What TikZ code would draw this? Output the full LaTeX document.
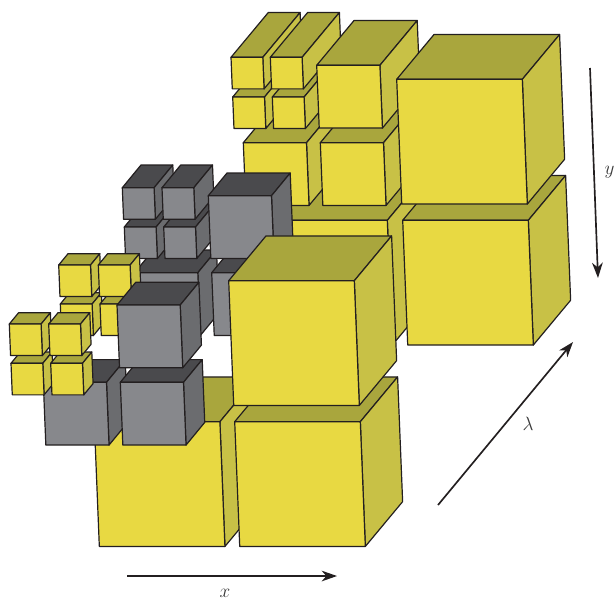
\documentclass[tikz,border=0pt]{standalone}
\usetikzlibrary{arrows.meta}
\definecolor{yfront}{HTML}{E8D942}
\definecolor{ytop}{HTML}{A9A63D}
\definecolor{yside}{HTML}{C8C146}
\definecolor{gfront}{HTML}{87888C}
\definecolor{gtop}{HTML}{4A4A4D}
\definecolor{gside}{HTML}{6B6C6F}
\definecolor{ink}{HTML}{231F20}
\definecolor{labelink}{HTML}{3A3A3A}
\tikzset{face/.style={draw=ink,line width=0.9pt,line join=round},
  axisline/.style={draw=ink,line width=1.25pt,-{Stealth[length=11.5pt,width=8pt,inset=3.5pt]}},
  axislabel/.style={text=labelink,font=\fontsize{15}{15}\selectfont,inner sep=0pt}}
% #1 colour prefix, #2 #3 top-left of the front face, #4 size, #5 #6 depth vector
\newcommand{\cuboid}[6]{%
  \pgfmathsetmacro{\hh}{#4*0.993}%
  \pgfmathsetmacro{\sk}{#4*0.04}%
  \fill[face,fill=#1top] (#2,#3) -- ++(#4,0) -- ++(#5,#6) -- ++(-#4,0) -- cycle;
  \fill[face,fill=#1side] (#2+#4,#3) -- ++(\sk,\hh) -- ++(#5,#6) -- ++(-\sk,-\hh) -- cycle;
  \fill[face,fill=#1front] (#2,#3) -- ++(#4,0) -- ++(\sk,\hh) -- ++(-#4,0) -- cycle;
}
\begin{document}
\begin{tikzpicture}[x=0.75pt,y=-0.75pt]
\useasboundingbox (0,0) rectangle (616,601);
% far group, yellow
\cuboid{y}{261.7}{220.3}{125.6}{37.3}{-44.8}
\cuboid{y}{402.7}{220.3}{125.6}{37.3}{-44.8}
\cuboid{y}{243.3}{142.7}{63.2}{37.3}{-44.8}
\cuboid{y}{320.3}{142.7}{63.2}{37.3}{-44.8}
\cuboid{y}{232.7}{97}{31.8}{37.3}{-44.8}
\cuboid{y}{272.3}{97}{31.8}{37.3}{-44.8}
\cuboid{y}{231}{57.3}{31.8}{37.3}{-44.8}
\cuboid{y}{270.3}{57.3}{31.8}{37.3}{-44.8}
\cuboid{y}{316.7}{65.3}{63.2}{37.3}{-44.8}
\cuboid{y}{396.7}{79.3}{125.6}{37.3}{-44.8}
% middle group, grey
\cuboid{g}{134.6}{272.7}{63.2}{18.7}{-22.7}
\cuboid{g}{211.7}{272.7}{63.2}{18.7}{-22.7}
\cuboid{g}{124.3}{227}{31.8}{18.7}{-22.7}
\cuboid{g}{163.7}{227}{31.8}{18.7}{-22.7}
\cuboid{g}{122.3}{187.7}{31.8}{18.7}{-22.7}
\cuboid{g}{162}{187.7}{31.8}{18.7}{-22.7}
\cuboid{g}{208.3}{195.7}{63.2}{18.7}{-22.7}
% tiny yellow, back
\cuboid{y}{60.3}{304}{31.8}{9.3}{-11.3}
\cuboid{y}{100}{304}{31.8}{9.3}{-11.3}
\cuboid{y}{58.7}{265}{31.8}{9.3}{-11.3}
\cuboid{y}{98.3}{265}{31.8}{9.3}{-11.3}
% front group
\cuboid{y}{94.3}{421.7}{125.6}{37.3}{-44.8}
\cuboid{y}{234.7}{421.7}{125.6}{37.3}{-44.8}
\cuboid{g}{43.3}{382.3}{63.2}{18.7}{-22.7}
\cuboid{g}{120.3}{382.3}{63.2}{18.7}{-22.7}
\cuboid{g}{117}{305}{63.2}{18.7}{-22.7}
\cuboid{y}{228.7}{280.7}{125.6}{37.3}{-44.8}
\cuboid{y}{11}{363.3}{31.8}{9.3}{-11.3}
\cuboid{y}{50.7}{363.3}{31.8}{9.3}{-11.3}
\cuboid{y}{9.3}{324}{31.8}{9.3}{-11.3}
\cuboid{y}{48.7}{324}{31.8}{9.3}{-11.3}
% axes
\coordinate (xs) at (127,576); \coordinate (xe) at (337,576);
\coordinate (ys) at (590,68); \coordinate (ye) at (598,278);
\coordinate (ls) at (438,505); \coordinate (le) at (573,342);
\draw[axisline] (xs) -- (xe);
\draw[axisline] (ys) -- (ye);
\draw[axisline] (ls) -- (le);
\node[axislabel] (xlab) at (225,593.5) {$x$};
\node[axislabel] (ylab) at (609.5,172) {$y$};
\node[axislabel] (llab) at (528,424) {$\lambda$};
\end{tikzpicture}
\end{document}
